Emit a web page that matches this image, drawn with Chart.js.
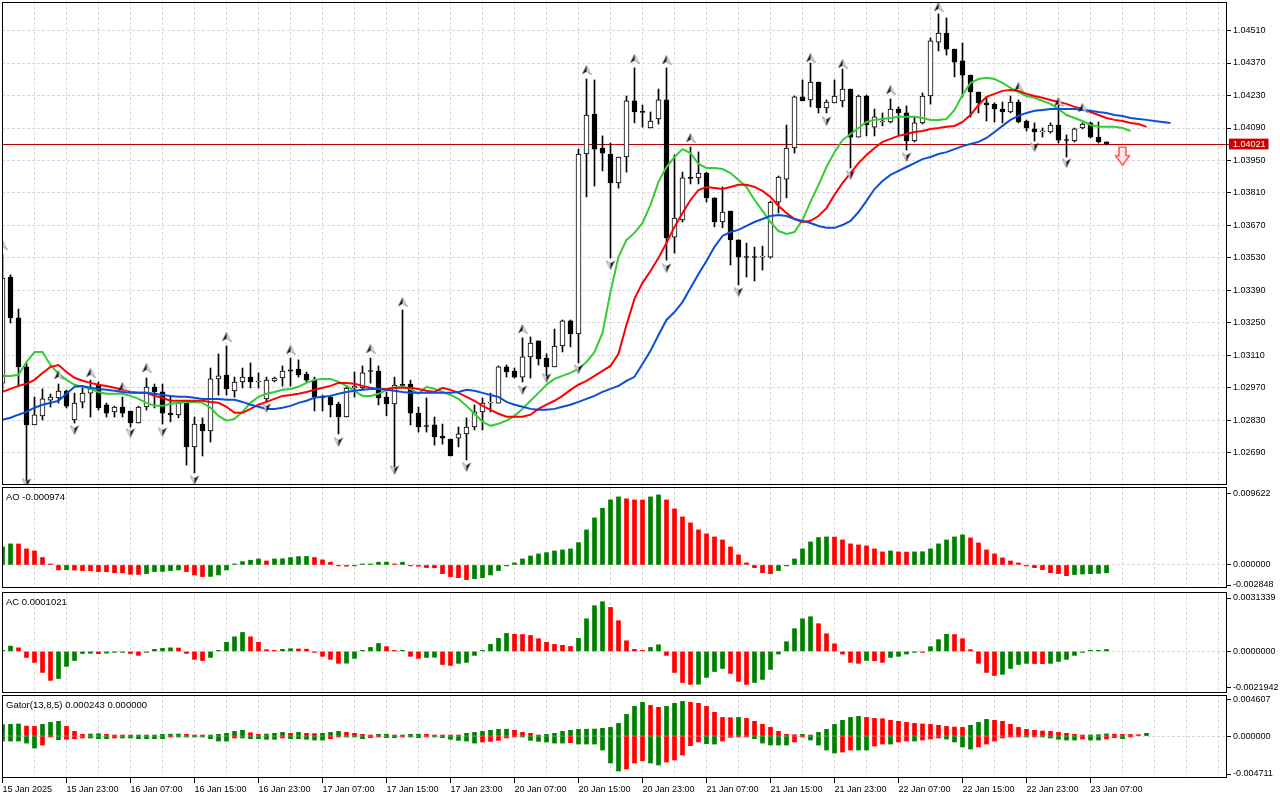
<!DOCTYPE html>
<html>
<head>
<meta charset="utf-8">
<title>EURUSD H1 - Alligator, Fractals, AO, AC, Gator</title>
<script src="https://cdn.jsdelivr.net/npm/chart.js@4.4.1/dist/chart.umd.min.js"></script>
<style>
  body { margin: 0; background: #fff; width: 1280px; height: 800px; overflow: hidden; position: relative;
         font-family: "Liberation Sans", Arial, sans-serif; }
  canvas { position: absolute; left: 0; }
  .lbl { position: absolute; left: 6px; font-size: 9.5px; line-height: 11px; color: #000; white-space: nowrap; }
</style>
</head>
<body>
<canvas id="main" width="1280" height="491" style="top:0px"></canvas>
<canvas id="ao" width="1280" height="113" style="top:481px"></canvas>
<canvas id="ac" width="1280" height="113" style="top:586px"></canvas>
<canvas id="gator" width="1280" height="111" style="top:689px"></canvas>
<div class="lbl" style="top:491px">AO -0.000974</div>
<div class="lbl" style="top:596px">AC 0.0001021</div>
<div class="lbl" style="top:699px">Gator(13,8,5) 0.000243 0.000000</div>
<script>
// ---- data (H1 bars, bar 0 = 15 Jan 15:00) ----
const timeLabels = ['15 Jan 2025', '15 Jan 23:00', '16 Jan 07:00', '16 Jan 15:00', '16 Jan 23:00', '17 Jan 07:00',
  '17 Jan 15:00', '17 Jan 23:00', '20 Jan 07:00', '20 Jan 15:00', '20 Jan 23:00', '21 Jan 07:00', '21 Jan 15:00',
  '21 Jan 23:00', '22 Jan 07:00', '22 Jan 15:00', '22 Jan 23:00', '23 Jan 07:00'];

const priceTicks = [1.02690, 1.02830, 1.02970, 1.03110, 1.03250, 1.03390, 1.03530, 1.03670, 1.03810,
  1.03950, 1.04090, 1.04230, 1.04370, 1.04510];
const lastPrice = 1.04021;

const opens = [
  1.02991, 1.03448, 1.03272, 1.03061, 1.02811, 1.02850, 1.02918, 1.02927, 1.02957, 1.02832,
  1.02909, 1.02948, 1.02983, 1.02897, 1.02867, 1.02888, 1.02871, 1.02819, 1.02888, 1.02974,
  1.02953, 1.02862, 1.02854, 1.02905, 1.02716, 1.02815, 1.02785, 1.03009, 1.03026, 1.02957,
  1.02996, 1.03017, 1.02996, 1.02923, 1.03000, 1.03013, 1.03048, 1.03052, 1.03030, 1.03004,
  1.02931, 1.02931, 1.02901, 1.02845, 1.02970, 1.02970, 1.03043, 1.03043, 1.02931, 1.02901,
  1.02983, 1.02987, 1.02862, 1.02806, 1.02811, 1.02763, 1.02750, 1.02754, 1.02772, 1.02802,
  1.02867, 1.02905, 1.02905, 1.03061, 1.03043, 1.03017, 1.03104, 1.03173, 1.03099, 1.03061,
  1.03151, 1.03259, 1.03203, 1.03978, 1.04150, 1.04004, 1.03978, 1.03853, 1.03965, 1.04207,
  1.04159, 1.04090, 1.04129, 1.04211, 1.03620, 1.03694, 1.03875, 1.03875, 1.03896, 1.03789,
  1.03685, 1.03732, 1.03608, 1.03534, 1.03534, 1.03534, 1.03534, 1.03771, 1.03870, 1.04004,
  1.04224, 1.04211, 1.04288, 1.04176, 1.04198, 1.04207, 1.04258, 1.04051, 1.04228, 1.04094,
  1.04116, 1.04116, 1.04172, 1.04155, 1.04034, 1.04112, 1.04228, 1.04460, 1.04499, 1.04430,
  1.04379, 1.04318, 1.04245, 1.04198, 1.04193, 1.04172, 1.04159, 1.04202, 1.04120, 1.04086,
  1.04073, 1.04073, 1.04103, 1.04038, 1.04034, 1.04090, 1.04112, 1.04051, 1.04030];
const highs = [
  1.03547, 1.03457, 1.03310, 1.03078, 1.02931, 1.02966, 1.02944, 1.02987, 1.02961, 1.02948,
  1.02970, 1.03004, 1.02996, 1.02905, 1.02892, 1.02931, 1.02871, 1.02892, 1.03013, 1.02987,
  1.02987, 1.02931, 1.02909, 1.02905, 1.02845, 1.02841, 1.03056, 1.03117, 1.03151, 1.03017,
  1.03056, 1.03078, 1.03035, 1.03017, 1.03017, 1.03065, 1.03099, 1.03091, 1.03039, 1.03017,
  1.02939, 1.02939, 1.02909, 1.02978, 1.03039, 1.03065, 1.03099, 1.03065, 1.02953, 1.03017,
  1.03306, 1.03004, 1.02888, 1.02927, 1.02845, 1.02815, 1.02750, 1.02802, 1.02841, 1.02897,
  1.02927, 1.02948, 1.03065, 1.03069, 1.03056, 1.03186, 1.03190, 1.03173, 1.03117, 1.03224,
  1.03263, 1.03263, 1.03999, 1.04301, 1.04297, 1.04056, 1.04025, 1.03965, 1.04228, 1.04349,
  1.04189, 1.04159, 1.04258, 1.04349, 1.03974, 1.03900, 1.04008, 1.03987, 1.03900, 1.03789,
  1.03836, 1.03732, 1.03608, 1.03594, 1.03577, 1.03581, 1.03775, 1.03883, 1.04103, 1.04228,
  1.04297, 1.04370, 1.04288, 1.04211, 1.04297, 1.04344, 1.04258, 1.04232, 1.04232, 1.04172,
  1.04155, 1.04215, 1.04181, 1.04185, 1.04138, 1.04241, 1.04478, 1.04581, 1.04564, 1.04430,
  1.04456, 1.04318, 1.04245, 1.04224, 1.04198, 1.04202, 1.04228, 1.04211, 1.04124, 1.04112,
  1.04090, 1.04112, 1.04190, 1.04060, 1.04090, 1.04112, 1.04116, 1.04116, 1.04030];
const lows = [
  1.02961, 1.03250, 1.02978, 1.02570, 1.02811, 1.02832, 1.02888, 1.02905, 1.02884, 1.02819,
  1.02884, 1.02845, 1.02875, 1.02845, 1.02845, 1.02845, 1.02802, 1.02819, 1.02875, 1.02884,
  1.02815, 1.02824, 1.02841, 1.02638, 1.02604, 1.02677, 1.02737, 1.02939, 1.02939, 1.02931,
  1.02970, 1.02970, 1.02970, 1.02909, 1.02996, 1.02978, 1.02978, 1.03017, 1.02996, 1.02871,
  1.02871, 1.02845, 1.02772, 1.02845, 1.02931, 1.02961, 1.02991, 1.02897, 1.02850, 1.02630,
  1.02978, 1.02811, 1.02780, 1.02780, 1.02724, 1.02728, 1.02677, 1.02716, 1.02660, 1.02789,
  1.02789, 1.02867, 1.02905, 1.03017, 1.03013, 1.02996, 1.03013, 1.03069, 1.03017, 1.03061,
  1.03125, 1.03147, 1.03078, 1.03793, 1.03840, 1.03905, 1.03530, 1.03831, 1.03900, 1.04112,
  1.04094, 1.04090, 1.04107, 1.03521, 1.03551, 1.03685, 1.03849, 1.03849, 1.03771, 1.03664,
  1.03660, 1.03500, 1.03414, 1.03448, 1.03431, 1.03478, 1.03530, 1.03724, 1.03789, 1.03982,
  1.04207, 1.04181, 1.04155, 1.04155, 1.04198, 1.04181, 1.03918, 1.04051, 1.04056, 1.04056,
  1.04099, 1.04112, 1.04060, 1.03995, 1.04030, 1.04107, 1.04193, 1.04422, 1.04404, 1.04310,
  1.04224, 1.04137, 1.04155, 1.04120, 1.04116, 1.04112, 1.04155, 1.04112, 1.04077, 1.04034,
  1.04051, 1.04068, 1.04025, 1.03965, 1.04030, 1.04086, 1.04047, 1.04025, 1.04017];
const closes = [
  1.03444, 1.03272, 1.03061, 1.02811, 1.02854, 1.02923, 1.02931, 1.02957, 1.02892, 1.02905,
  1.02948, 1.02966, 1.02884, 1.02862, 1.02888, 1.02862, 1.02819, 1.02888, 1.02974, 1.02953,
  1.02862, 1.02854, 1.02905, 1.02716, 1.02815, 1.02785, 1.03009, 1.03022, 1.02966, 1.02996,
  1.03017, 1.02996, 1.03000, 1.03004, 1.03013, 1.03043, 1.03043, 1.03026, 1.03004, 1.02931,
  1.02927, 1.02897, 1.02845, 1.02970, 1.02978, 1.03035, 1.03041, 1.02927, 1.02901, 1.02983,
  1.02981, 1.02862, 1.02802, 1.02804, 1.02759, 1.02754, 1.02677, 1.02772, 1.02802, 1.02867,
  1.02905, 1.02909, 1.03061, 1.03039, 1.03017, 1.03104, 1.03164, 1.03095, 1.03061, 1.03151,
  1.03259, 1.03203, 1.03978, 1.04146, 1.03999, 1.03982, 1.03853, 1.03965, 1.04207, 1.04159,
  1.04157, 1.04120, 1.04211, 1.03616, 1.03702, 1.03875, 1.03873, 1.03896, 1.03789, 1.03685,
  1.03728, 1.03608, 1.03534, 1.03532, 1.03532, 1.03538, 1.03771, 1.03879, 1.04004, 1.04224,
  1.04207, 1.04288, 1.04176, 1.04202, 1.04228, 1.04258, 1.04051, 1.04228, 1.04103, 1.04138,
  1.04120, 1.04172, 1.04155, 1.04034, 1.04112, 1.04228, 1.04465, 1.04499, 1.04430, 1.04374,
  1.04318, 1.04245, 1.04198, 1.04189, 1.04172, 1.04159, 1.04202, 1.04116, 1.04090, 1.04073,
  1.04077, 1.04103, 1.04038, 1.04036, 1.04086, 1.04107, 1.04051, 1.04030, 1.04021];

// Alligator (already shifted: jaw +8, teeth +5, lips +3 bars)
const jaw = [
  1.02833, 1.02842, 1.02855, 1.02867, 1.02885, 1.02898, 1.02906, 1.02915, 1.02945, 1.02975,
  1.02979, 1.02971, 1.02966, 1.02962, 1.02958, 1.02953, 1.02949, 1.02949, 1.02949, 1.02945,
  1.02940, 1.02936, 1.02932, 1.02932, 1.02928, 1.02923, 1.02923, 1.02923, 1.02919, 1.02919,
  1.02910, 1.02898, 1.02889, 1.02880, 1.02880, 1.02885, 1.02893, 1.02906, 1.02915, 1.02928,
  1.02932, 1.02936, 1.02945, 1.02953, 1.02958, 1.02962, 1.02966, 1.02966, 1.02962, 1.02958,
  1.02953, 1.02949, 1.02949, 1.02949, 1.02949, 1.02949, 1.02949, 1.02953, 1.02962, 1.02958,
  1.02949, 1.02940, 1.02932, 1.02910, 1.02898, 1.02889, 1.02880, 1.02876, 1.02876, 1.02880,
  1.02889, 1.02898, 1.02910, 1.02923, 1.02936, 1.02953, 1.02966, 1.02979, 1.03001, 1.03018,
  1.03073, 1.03130, 1.03198, 1.03263, 1.03297, 1.03340, 1.03401, 1.03461, 1.03517, 1.03578,
  1.03625, 1.03642, 1.03651, 1.03668, 1.03685, 1.03698, 1.03711, 1.03715, 1.03711, 1.03698,
  1.03690, 1.03681, 1.03668, 1.03660, 1.03660, 1.03672, 1.03690, 1.03728, 1.03776, 1.03827,
  1.03862, 1.03888, 1.03905, 1.03922, 1.03939, 1.03956, 1.03965, 1.03978, 1.03986, 1.03999,
  1.04012, 1.04021, 1.04030, 1.04047, 1.04073, 1.04099, 1.04125, 1.04142, 1.04155, 1.04164,
  1.04168, 1.04172, 1.04172, 1.04172, 1.04172, 1.04168, 1.04164, 1.04159, 1.04155, 1.04146,
  1.04142, 1.04133, 1.04129, 1.04125, 1.04120, 1.04116, 1.04112];
const teeth = [
  1.02953, 1.02966, 1.02979, 1.02988, 1.03005, 1.03035, 1.03061, 1.03069, 1.03039, 1.03014,
  1.03001, 1.02992, 1.02984, 1.02979, 1.02971, 1.02962, 1.02953, 1.02949, 1.02949, 1.02936,
  1.02928, 1.02915, 1.02915, 1.02915, 1.02915, 1.02915, 1.02910, 1.02906, 1.02889, 1.02863,
  1.02863, 1.02880, 1.02898, 1.02910, 1.02923, 1.02936, 1.02940, 1.02945, 1.02953, 1.02962,
  1.02971, 1.02979, 1.02992, 1.02992, 1.02988, 1.02979, 1.02971, 1.02966, 1.02966, 1.02971,
  1.02971, 1.02971, 1.02966, 1.02958, 1.02953, 1.02971, 1.02962, 1.02949, 1.02932, 1.02915,
  1.02893, 1.02876, 1.02859, 1.02846, 1.02846, 1.02846, 1.02855, 1.02880, 1.02898, 1.02915,
  1.02936, 1.02962, 1.02984, 1.03001, 1.03022, 1.03044, 1.03065, 1.03117, 1.03242, 1.03354,
  1.03423, 1.03474, 1.03530, 1.03595, 1.03664, 1.03724, 1.03780, 1.03823, 1.03836, 1.03832,
  1.03827, 1.03836, 1.03845, 1.03845, 1.03836, 1.03819, 1.03793, 1.03754, 1.03724, 1.03698,
  1.03685, 1.03690, 1.03711, 1.03745, 1.03802, 1.03853, 1.03896, 1.03939, 1.03974, 1.04004,
  1.04030, 1.04043, 1.04056, 1.04064, 1.04073, 1.04077, 1.04086, 1.04090, 1.04095, 1.04099,
  1.04116, 1.04146, 1.04189, 1.04224, 1.04237, 1.04250, 1.04254, 1.04250, 1.04237, 1.04228,
  1.04220, 1.04211, 1.04202, 1.04194, 1.04181, 1.04172, 1.04159, 1.04146, 1.04133, 1.04125,
  1.04120, 1.04112, 1.04107, 1.04095];
const lips = [
  1.03022, 1.03022, 1.03027, 1.03082, 1.03125, 1.03125, 1.03069, 1.03031, 1.03005, 1.02984,
  1.02975, 1.02966, 1.02953, 1.02945, 1.02945, 1.02945, 1.02936, 1.02923, 1.02906, 1.02893,
  1.02893, 1.02902, 1.02906, 1.02910, 1.02910, 1.02906, 1.02885, 1.02850, 1.02829, 1.02837,
  1.02867, 1.02906, 1.02932, 1.02945, 1.02953, 1.02962, 1.02966, 1.02975, 1.02992, 1.03005,
  1.03009, 1.03009, 1.02996, 1.02979, 1.02958, 1.02936, 1.02936, 1.02945, 1.02962, 1.02971,
  1.02975, 1.02966, 1.02945, 1.02975, 1.02966, 1.02953, 1.02940, 1.02923, 1.02893, 1.02859,
  1.02825, 1.02807, 1.02816, 1.02829, 1.02850, 1.02880, 1.02915, 1.02949, 1.02984, 1.03009,
  1.03022, 1.03035, 1.03052, 1.03082, 1.03125, 1.03207, 1.03384, 1.03535, 1.03608, 1.03638,
  1.03681, 1.03759, 1.03858, 1.03922, 1.03965, 1.03999, 1.03982, 1.03935, 1.03918, 1.03918,
  1.03913, 1.03896, 1.03866, 1.03836, 1.03780, 1.03733, 1.03685, 1.03646, 1.03634, 1.03642,
  1.03694, 1.03772, 1.03845, 1.03922, 1.03986, 1.04038, 1.04064, 1.04090, 1.04116, 1.04125,
  1.04129, 1.04133, 1.04138, 1.04138, 1.04138, 1.04133, 1.04125, 1.04125, 1.04129, 1.04168,
  1.04232, 1.04284, 1.04301, 1.04306, 1.04301, 1.04284, 1.04263, 1.04245, 1.04228, 1.04220,
  1.04207, 1.04194, 1.04172, 1.04146, 1.04133, 1.04120, 1.04103, 1.04095, 1.04095, 1.04095,
  1.04090, 1.04077];

// Fractal arrows (bar index, price level of the arrow)
const upFracIdx = [0, 7, 11, 15, 18, 28, 36, 46, 50, 65, 73, 79, 83, 86, 101, 105, 111, 117, 127, 132, 135];
const upFracVal = [1.03586, 1.03026, 1.03035, 1.02975, 1.03056, 1.03190, 1.03134, 1.03138, 1.03340, 1.03224,
  1.04340, 1.04388, 1.04383, 1.04047, 1.04392, 1.04366, 1.04254, 1.04611, 1.04267, 1.04202, 1.04177];
const downFracIdx = [3, 9, 16, 20, 24, 33, 42, 49, 58, 65, 68, 72, 76, 83, 92, 103, 106, 113, 129, 133];
const downFracVal = [1.02561, 1.02790, 1.02777, 1.02781, 1.02574, 1.02885, 1.02738, 1.02617, 1.02630, 1.02962,
  1.03014, 1.03052, 1.03500, 1.03487, 1.03384, 1.04120, 1.03888, 1.03965, 1.04008, 1.03939];
const signalIdx = [140];
const signalVal = [1.03969];

const aoValues = [
  0.00222, 0.00260, 0.00259, 0.00198, 0.00173, 0.00091, 0.00008, -0.00062, -0.00060, -0.00064,
  -0.00070, -0.00072, -0.00082, -0.00084, -0.00095, -0.00097, -0.00115, -0.00117, -0.00107, -0.00082,
  -0.00080, -0.00070, -0.00062, -0.00082, -0.00124, -0.00144, -0.00142, -0.00124, -0.00062, 0.00008,
  0.00041, 0.00058, 0.00074, 0.00049, 0.00074, 0.00076, 0.00091, 0.00103, 0.00105, 0.00091,
  0.00062, 0.00033, -0.00002, -0.00016, -0.00012, 0.00001, 0.00012, 0.00033, 0.00035, 0.00008,
  0.00033, -0.00001, -0.00016, -0.00033, -0.00035, -0.00107, -0.00144, -0.00157, -0.00181, -0.00169,
  -0.00157, -0.00124, -0.00070, -0.00012, 0.00025, 0.00074, 0.00111, 0.00136, 0.00152, 0.00173,
  0.00185, 0.00198, 0.00276, 0.00433, 0.00581, 0.00700, 0.00803, 0.00840, 0.00816, 0.00803,
  0.00801, 0.00840, 0.00865, 0.00803, 0.00692, 0.00593, 0.00519, 0.00433, 0.00383, 0.00346,
  0.00309, 0.00222, 0.00124, 0.00025, -0.00033, -0.00095, -0.00107, -0.00070, -0.00008, 0.00074,
  0.00198, 0.00284, 0.00338, 0.00346, 0.00344, 0.00309, 0.00260, 0.00247, 0.00235, 0.00198,
  0.00161, 0.00173, 0.00161, 0.00159, 0.00161, 0.00163, 0.00198, 0.00260, 0.00309, 0.00346,
  0.00371, 0.00334, 0.00272, 0.00185, 0.00136, 0.00087, 0.00049, 0.00025, -0.00008, -0.00033,
  -0.00058, -0.00095, -0.00107, -0.00132, -0.00119, -0.00112, -0.00108, -0.00104, -0.000974];
const acValues = [
  0.00003, 0.00028, 0.00019, -0.00032, -0.00058, -0.00111, -0.00153, -0.00143, -0.00079, -0.00048,
  -0.00011, -0.00010, -0.00012, -0.00009, -0.00005, -0.00004, -0.00011, -0.00021, -0.00002, 0.00011,
  0.00016, 0.00019, 0.00018, -0.00011, -0.00042, -0.00048, -0.00032, 0.00001, 0.00048, 0.00077,
  0.00100, 0.00077, 0.00048, 0.00009, 0.00004, 0.00011, 0.00014, 0.00013, 0.00012, -0.00001,
  -0.00026, -0.00042, -0.00063, -0.00062, -0.00037, 0.00001, 0.00021, 0.00042, 0.00025, 0.00001,
  0.00002, -0.00026, -0.00037, -0.00032, -0.00031, -0.00069, -0.00074, -0.00063, -0.00058, -0.00021,
  0.00001, 0.00037, 0.00069, 0.00095, 0.00090, 0.00089, 0.00084, 0.00067, 0.00048, 0.00037,
  0.00032, 0.00026, 0.00069, 0.00172, 0.00241, 0.00262, 0.00232, 0.00162, 0.00056, 0.00011,
  0.00001, 0.00021, 0.00035, -0.00021, -0.00111, -0.00164, -0.00174, -0.00173, -0.00137, -0.00106,
  -0.00090, -0.00116, -0.00158, -0.00174, -0.00164, -0.00148, -0.00095, -0.00014, 0.00051, 0.00120,
  0.00172, 0.00183, 0.00146, 0.00093, 0.00040, -0.00014, -0.00058, -0.00063, -0.00048, -0.00049,
  -0.00058, -0.00032, -0.00026, -0.00014, -0.00004, -0.00005, 0.00025, 0.00062, 0.00090, 0.00089,
  0.00067, 0.00009, -0.00063, -0.00111, -0.00127, -0.00121, -0.00090, -0.00069, -0.00063, -0.00064,
  -0.00065, -0.00063, -0.00053, -0.00042, -0.00021, -0.00005, 0.00004, 0.00005, 0.0001021];
const gatorUp = [
  0.00127, 0.00131, 0.00135, 0.00112, 0.00108, 0.00131, 0.00153, 0.00165, 0.00108, 0.00052,
  0.00019, 0.00022, 0.00026, 0.00019, 0.00007, 0.00006, 0.00004, 0.00007, 0.00001, 0.00007,
  0.00019, 0.00021, 0.00022, 0.00019, 0.00007, 0.00006, 0.00007, 0.00019, 0.00030, 0.00052,
  0.00064, 0.00037, 0.00019, 0.00022, 0.00030, 0.00041, 0.00030, 0.00041, 0.00030, 0.00028,
  0.00030, 0.00041, 0.00052, 0.00041, 0.00030, 0.00019, 0.00007, 0.00019, 0.00021, 0.00007,
  0.00007, 0.00019, 0.00021, 0.00019, 0.00007, 0.00006, 0.00004, 0.00001, 0.00030, 0.00041,
  0.00052, 0.00064, 0.00075, 0.00077, 0.00064, 0.00041, 0.00030, 0.00007, 0.00019, 0.00030,
  0.00052, 0.00064, 0.00075, 0.00077, 0.00079, 0.00086, 0.00097, 0.00142, 0.00243, 0.00333,
  0.00378, 0.00344, 0.00322, 0.00333, 0.00367, 0.00389, 0.00378, 0.00367, 0.00333, 0.00266,
  0.00209, 0.00206, 0.00209, 0.00198, 0.00165, 0.00131, 0.00097, 0.00052, 0.00019, 0.00015,
  0.00019, 0.00007, 0.00041, 0.00075, 0.00131, 0.00176, 0.00209, 0.00221, 0.00209, 0.00198,
  0.00194, 0.00176, 0.00165, 0.00153, 0.00142, 0.00135, 0.00131, 0.00120, 0.00108, 0.00101,
  0.00097, 0.00120, 0.00153, 0.00187, 0.00176, 0.00165, 0.00131, 0.00097, 0.00075, 0.00064,
  0.00056, 0.00052, 0.00041, 0.00030, 0.00019, 0.00011, 0.00013, 0.00015, 0.00024, 0.00021,
  0.00019, 0.00017, 0.00015, 0.00030];
const gatorDown = [
  -0.00056, -0.00056, -0.00056, -0.00079, -0.00135, -0.00101, -0.00011, -0.00041, -0.00037, -0.00030,
  -0.00022, -0.00022, -0.00030, -0.00030, -0.00022, -0.00022, -0.00022, -0.00030, -0.00030, -0.00030,
  -0.00030, -0.00011, -0.00011, -0.00011, -0.00011, -0.00011, -0.00030, -0.00056, -0.00056, -0.00022,
  -0.00022, -0.00030, -0.00030, -0.00037, -0.00037, -0.00022, -0.00030, -0.00030, -0.00037, -0.00045,
  -0.00045, -0.00030, -0.00011, -0.00011, -0.00011, -0.00030, -0.00019, -0.00011, -0.00019, -0.00019,
  -0.00011, -0.00011, -0.00019, -0.00011, -0.00011, -0.00019, -0.00037, -0.00049, -0.00056, -0.00079,
  -0.00067, -0.00060, -0.00049, -0.00022, -0.00011, -0.00011, -0.00049, -0.00060, -0.00067, -0.00079,
  -0.00079, -0.00075, -0.00090, -0.00090, -0.00090, -0.00157, -0.00303, -0.00393, -0.00370, -0.00303,
  -0.00277, -0.00303, -0.00325, -0.00292, -0.00269, -0.00213, -0.00108, -0.00067, -0.00086, -0.00090,
  -0.00056, -0.00015, -0.00011, -0.00004, -0.00030, -0.00079, -0.00101, -0.00101, -0.00101, -0.00067,
  -0.00007, -0.00045, -0.00101, -0.00157, -0.00191, -0.00180, -0.00157, -0.00157, -0.00157, -0.00112,
  -0.00090, -0.00090, -0.00067, -0.00056, -0.00056, -0.00045, -0.00034, -0.00022, -0.00034, -0.00067,
  -0.00123, -0.00146, -0.00123, -0.00090, -0.00056, -0.00022, -0.00007, -0.00004, -0.00011, -0.00004,
  -0.00011, -0.00022, -0.00037, -0.00045, -0.00045, -0.00034, -0.00045, -0.00045, -0.00034, -0.00019,
  -0.00030, -0.00011];

const aoTickText = ['0.009622', '0.000000', '-0.002848'];
const acTickText = ['0.0031339', '0.0000000', '-0.0021942'];
const gatorTickText = ['0.004607', '0.000000', '-0.004711'];

// ---- styling ----
const FONT = '"Liberation Sans", Arial, sans-serif';
Chart.defaults.font.family = FONT;
Chart.defaults.font.size = 9;
Chart.defaults.color = '#000';

const GRID = '#d8d8d8';
const DASH = [3, 2];
const UP = '#008000';
const DOWN = '#ff0000';

// 8 px per bar, bar centres on half pixels
const X_MIN = -0.0625, X_MAX = 153.0625;
const gridBars = [];
for (let b = 0; b <= 152; b += 4) gridBars.push(b);

const isLabelBar = v => v % 8 === 0 && v / 8 < timeLabels.length;

function xAxis(withLabels) {
  return {
    type: 'linear', min: X_MIN, max: X_MAX, offset: false,
    afterBuildTicks: ax => { ax.ticks = gridBars.map(v => ({ value: v })); },
    afterFit: ax => {
      ax.height = withLabels ? 22 : 0;
      ax.paddingLeft = 0; ax.paddingRight = 0;
    },
    border: { display: false, dash: DASH },
    grid: {
      offset: false, color: GRID, lineWidth: 1,
      drawTicks: withLabels, tickLength: 5, tickBorderDash: [],
      tickColor: c => (c.tick && isLabelBar(c.tick.value)) ? '#000' : 'rgba(0,0,0,0)'
    },
    ticks: {
      display: withLabels, autoSkip: false, maxRotation: 0, minRotation: 0, align: 'start', padding: 1,
      callback: v => isLabelBar(v) ? timeLabels[v / 8] : ''
    }
  };
}

// indicator axis: labels sit inside the pane like the terminal draws them
function indicatorAxis(min, max, tickPos, tickText) {
  return {
    position: 'right', min: min, max: max, beginAtZero: false,
    afterBuildTicks: ax => { ax.ticks = tickPos.map(v => ({ value: v })); },
    afterFit: ax => { ax.width = 53; ax.paddingTop = 0; ax.paddingBottom = 0; },
    border: { display: false, dash: DASH },
    grid: {
      color: c => (c.tick && c.tick.value === 0) ? GRID : 'rgba(0,0,0,0)',
      tickColor: '#000', tickLength: 4, tickBorderDash: []
    },
    ticks: { autoSkip: false, padding: 2, callback: (v, i) => tickText[i] }
  };
}

const isLast = c => c.tick && Math.abs(c.tick.value - lastPrice) < 1e-9;

const framePlugin = {
  id: 'frame',
  afterDraw(chart) {
    const a = chart.chartArea, ctx = chart.ctx;
    ctx.save();
    ctx.strokeStyle = '#000';
    ctx.lineWidth = 1;
    ctx.strokeRect(Math.round(a.left) + 0.5, Math.round(a.top) + 0.5,
      Math.round(a.right - a.left) - 1, Math.round(a.bottom - a.top) - 1);
    ctx.restore();
  }
};

function fractalImg(up) {
  const c = document.createElement('canvas');
  c.width = 10; c.height = 10;
  const g = c.getContext('2d');
  if (!up) { g.translate(10, 10); g.rotate(Math.PI); }
  g.beginPath(); g.moveTo(5, 0.5); g.lineTo(9.5, 9.5); g.lineTo(5, 6.5); g.closePath();
  g.fillStyle = '#e4e6f0'; g.fill();
  g.strokeStyle = '#8a8c9a'; g.lineWidth = 0.8; g.stroke();
  g.beginPath(); g.moveTo(5, 0.5); g.lineTo(5, 6.5); g.lineTo(0.5, 9.5); g.closePath();
  g.fillStyle = '#111'; g.fill();
  return c;
}

function sellImg() {
  const c = document.createElement('canvas');
  c.width = 17; c.height = 21;
  const g = c.getContext('2d');
  g.beginPath();
  g.moveTo(5, 1.5); g.lineTo(12, 1.5); g.lineTo(12, 10); g.lineTo(15.5, 10);
  g.lineTo(8.5, 19.5); g.lineTo(1.5, 10); g.lineTo(5, 10); g.closePath();
  g.fillStyle = '#ffe6e6'; g.fill();
  g.strokeStyle = '#ff2a2a'; g.lineWidth = 1.2; g.stroke();
  return c;
}

const pts = arr => arr.map((v, i) => ({ x: i, y: v }));
const pairs = (xs, ys) => xs.map((x, k) => ({ x: x, y: ys[k] }));
const risingColors = arr => arr.map((v, i) => (i === 0 || v > arr[i - 1]) ? UP : DOWN);
const gatorColors = arr => arr.map((v, i) => (i === 0 || Math.abs(v) >= Math.abs(arr[i - 1])) ? UP : DOWN);

function makeChart(id, datasets, scales, padding) {
  return new Chart(document.getElementById(id), {
    type: 'bar',
    data: { datasets: datasets },
    options: {
      responsive: false, animation: false, events: [],
      layout: { autoPadding: false, padding: padding },
      plugins: { legend: { display: false }, tooltip: { enabled: false } },
      scales: scales
    },
    plugins: [framePlugin]
  });
}

// ---- main price pane ----
const bars = opens.map((_, i) => i);
const lineSet = (data, color) => ({
  type: 'line', data: pts(data), borderColor: color, borderWidth: 2,
  pointRadius: 0, tension: 0, order: 1
});
const markSet = (xs, ys, img) => ({
  type: 'line', data: pairs(xs, ys), showLine: false,
  pointStyle: img, pointRadius: 5, order: 0
});

makeChart('main', [
  markSet(upFracIdx, upFracVal, fractalImg(true)),
  markSet(downFracIdx, downFracVal, fractalImg(false)),
  markSet(signalIdx, signalVal, sellImg()),
  lineSet(jaw, '#0b4fd9'),
  lineSet(teeth, '#ff0000'),
  lineSet(lips, '#32cd32'),
  {
    type: 'bar', data: bars.map(i => ({ x: i, y: [opens[i], closes[i]] })),
    backgroundColor: bars.map(i => closes[i] > opens[i] ? '#fff' : '#000'),
    borderColor: '#000', borderWidth: 1, borderSkipped: false,
    barThickness: 5, minBarLength: 1, grouped: false, order: 3
  },
  {
    type: 'bar', data: bars.map(i => ({ x: i, y: [lows[i], highs[i]] })),
    backgroundColor: '#000', barThickness: 1, grouped: false, order: 4
  }
], {
  x: xAxis(false),
  y: {
    position: 'right', min: 1.025521, max: 1.046328, beginAtZero: false,
    afterBuildTicks: ax => {
      ax.ticks = priceTicks.concat([lastPrice]).sort((a, b) => a - b).map(v => ({ value: v }));
    },
    afterFit: ax => { ax.width = 53; ax.paddingTop = 0; ax.paddingBottom = 0; },
    border: { display: false, dash: c => isLast(c) ? [] : DASH },
    grid: {
      color: c => isLast(c) ? '#c00000' : GRID,
      tickColor: c => isLast(c) ? '#c80000' : '#000',
      tickLength: 4, tickBorderDash: []
    },
    ticks: {
      autoSkip: false, padding: 2,
      callback: v => v.toFixed(5),
      color: c => isLast(c) ? '#fff' : '#000',
      showLabelBackdrop: c => isLast(c),
      backdropColor: '#c80000',
      backdropPadding: { top: 0, bottom: 0, left: 4, right: 3 }
    }
  }
}, { left: 2, right: 0, top: 2, bottom: 6 });

// ---- Awesome Oscillator ----
makeChart('ao', [{
  data: pts(aoValues), backgroundColor: risingColors(aoValues),
  barThickness: 4, minBarLength: 1, grouped: false
}], {
  x: xAxis(false),
  y: indicatorAxis(-0.002848, 0.009622, [0.008758, 0, -0.002478], aoTickText)
}, { left: 2, right: 0, top: 6, bottom: 6 });

// ---- Accelerator Oscillator ----
makeChart('ac', [{
  data: pts(acValues), backgroundColor: risingColors(acValues),
  barThickness: 4, minBarLength: 1, grouped: false
}], {
  x: xAxis(false),
  y: indicatorAxis(-0.0021942, 0.0031339, [0.002817, 0, -0.001893], acTickText)
}, { left: 2, right: 0, top: 6, bottom: 6 });

// ---- Gator Oscillator ----
makeChart('gator', [
  { data: pts(gatorUp), backgroundColor: gatorColors(gatorUp), barThickness: 4, minBarLength: 1, grouped: false },
  { data: pts(gatorDown), backgroundColor: gatorColors(gatorDown), barThickness: 4, minBarLength: 1, grouped: false }
], {
  x: xAxis(true),
  y: indicatorAxis(-0.004711, 0.004607, [0.004046, 0, -0.004262], gatorTickText)
}, { left: 2, right: 0, top: 6, bottom: 0 });
</script>
</body>
</html>
